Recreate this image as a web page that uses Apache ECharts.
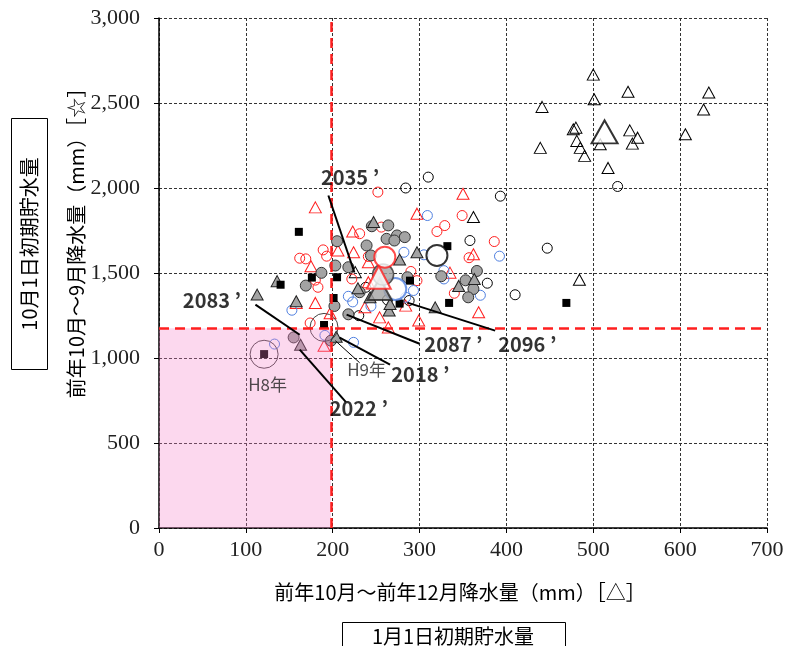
<!DOCTYPE html>
<html>
<head>
<meta charset="utf-8">
<script src="https://cdn.jsdelivr.net/npm/echarts@6/dist/echarts.min.js"></script>
<style>
html, body { margin: 0; padding: 0; background: #fff; }
#chart { width: 787px; height: 646px; }
</style>
</head>
<body>
<div id="chart"></div>
<script>
// x: 前年10月～前年12月降水量 (mm), y: 前年10月～9月降水量 (mm)
const xTickInterval = 100;
const yTickInterval = 500;

// Open black triangles
const blackTriangles = [
  [500, 2667], [540, 2566], [633, 2562], [501, 2522], [441, 2477], [627, 2462],
  [477, 2345], [480, 2355], [542, 2339], [551, 2296], [606, 2316], [481, 2277],
  [545, 2261], [508, 2257], [439, 2236], [485, 2236], [490, 2189], [517, 2118],
  [362, 1829], [484, 1460], [226, 1505]
];
// Open black circles
const blackCircles = [
  [310, 2064], [284, 2000], [393, 1952], [528, 2009], [358, 1691], [447, 1646],
  [378, 1440], [410, 1372], [238, 1416], [230, 1249], [288, 1338], [263, 1342]
];
// Open red circles
const redCircles = [
  [252, 1976], [349, 1838], [231, 1731], [329, 1779], [320, 1744], [256, 1770],
  [386, 1685], [357, 1590], [189, 1636], [162, 1587], [169, 1583], [193, 1599],
  [180, 1458], [183, 1416], [222, 1465], [174, 1206], [340, 1381], [290, 1509],
  [297, 1455], [241, 1597]
];
// Open red triangles
const redTriangles = [
  [180, 1886], [223, 1744], [206, 1632], [224, 1622], [175, 1540], [158, 1324],
  [180, 1324], [197, 1263], [190, 1072], [350, 1966], [297, 1849], [241, 1563],
  [335, 1502], [368, 1269], [299, 1220], [264, 1180], [254, 1239], [284, 1308],
  [237, 1298], [241, 1446], [362, 1610]
];
// Open blue circles
const blueCircles = [
  [309, 1838], [305, 1607], [392, 1599], [282, 1622], [328, 1514], [328, 1465],
  [370, 1369], [293, 1397], [284, 1357], [218, 1363], [223, 1330], [153, 1281],
  [191, 1133], [224, 1092], [133, 1082], [244, 1305]
];
// Filled gray circles
const grayCircles = [
  [205, 1687], [203, 1544], [218, 1534], [187, 1501], [169, 1426], [202, 1306],
  [218, 1257], [155, 1121], [198, 1102], [245, 1775], [264, 1780], [274, 1721],
  [283, 1711], [262, 1701], [271, 1691], [239, 1662], [244, 1603], [231, 1387],
  [325, 1481], [366, 1512], [353, 1457], [362, 1406], [356, 1357], [286, 1475]
];
// Filled gray triangles
const grayTriangles = [
  [247, 1800], [297, 1622], [277, 1579], [136, 1452], [113, 1373], [158, 1334],
  [163, 1078], [204, 1125], [345, 1424], [363, 1465], [318, 1298], [265, 1279],
  [229, 1410], [243, 1357], [266, 1318]
];
// Filled black squares
const blackSquares = [
  [161, 1742], [176, 1473], [205, 1475], [140, 1431], [201, 1353], [190, 1194],
  [121, 1023], [332, 1658], [289, 1455], [334, 1324], [277, 1320], [469, 1324]
];

// Group means (large markers)
const meanBlackTriangle = [[513, 2330]];
const meanBlackCircle = [[320, 1603]];
const meanRedCircle = [[260, 1593]];
const meanGrayCircle = [[258, 1491]];
const meanRedTriangle = [[253, 1475]];
const meanBlueCircle = [[272, 1406]];
const meanGrayTriangle = [[254, 1406]];

// Highlighted years H8 / H9 (rings)
const ringPoints = [[121, 1022], [190, 1180]];

// Threshold lines
const thresholdX = 198;
const thresholdY = 1175;

// Callouts: label text, label anchor, leader line start (label side) and end (point side)
const calloutNames = ['2035 ’', '2083 ’', '2022 ’', '2018 ’', '2087 ’', '2096 ’'];
const calloutLabelAt = [[220, 2062], [61, 1338], [230, 701], [301, 902], [339, 1078], [424, 1078]];
const calloutLineFrom = [[195, 1956], [111, 1314], [215, 742], [266, 961], [300, 1084], [387, 1161]];
const calloutLineTo = [[225, 1503], [162, 1137], [162, 1049], [208, 1120], [216, 1255], [286, 1326]];

const yearNames = ['H8年', 'H9年'];
const yearLabelAt = [[125, 843], [239, 931]];
const yearLineFrom = [[231, 972]];
const yearLineTo = [[203, 1102]];

const RED = '#ff1f1f';
const BLUE = '#4f7fe0';
const GRAY = '#a3a3a3';

function openSeries(data, symbol, size, color, extra) {
  return Object.assign({
    type: 'scatter', data, symbol, symbolSize: size, z: 2,
    itemStyle: { color: 'rgba(255,255,255,0)', borderColor: color, borderWidth: 1, opacity: 1 },
    emphasis: { disabled: true }
  }, extra || {});
}
function filledSeries(data, symbol, size, fill, border, extra) {
  return Object.assign({
    type: 'scatter', data, symbol, symbolSize: size, z: 2,
    itemStyle: { color: fill, borderColor: border, borderWidth: border ? 1 : 0, opacity: 1 },
    emphasis: { disabled: true }
  }, extra || {});
}

const chart = echarts.init(document.getElementById('chart'), null, { renderer: 'canvas' });

const series = [
  openSeries(blackTriangles, 'triangle', [12, 11], '#000'),
  openSeries(blackCircles, 'circle', 10, '#000'),
  openSeries(redCircles, 'circle', 10, RED),
  openSeries(redTriangles, 'triangle', [12, 11], RED),
  openSeries(blueCircles, 'circle', 10, BLUE),
  filledSeries(grayCircles, 'circle', 11, GRAY, '#333'),
  filledSeries(grayTriangles, 'triangle', [12, 11], GRAY, '#222'),
  filledSeries(blackSquares, 'rect', 8, '#000', null),
  // group means
  openSeries(meanBlueCircle, 'circle', 22, BLUE, { itemStyle: { color: '#fff', borderColor: BLUE, borderWidth: 2 } }),
  filledSeries(meanGrayTriangle, 'triangle', [24, 22], GRAY, '#222', { itemStyle: { color: GRAY, borderColor: '#222', borderWidth: 2 } }),
  filledSeries(meanGrayCircle, 'circle', 21, GRAY, '#333', { itemStyle: { color: GRAY, borderColor: '#333', borderWidth: 1.5 } }),
  openSeries(meanRedTriangle, 'triangle', [24, 23], RED, { itemStyle: { color: '#fff', borderColor: RED, borderWidth: 2 } }),
  openSeries(meanRedCircle, 'circle', 21, RED, { itemStyle: { color: '#fff', borderColor: RED, borderWidth: 2 } }),
  openSeries(meanBlackCircle, 'circle', 21, '#000', { itemStyle: { color: '#fff', borderColor: '#000', borderWidth: 2 } }),
  openSeries(meanBlackTriangle, 'triangle', [26, 23], '#000', { itemStyle: { color: '#fff', borderColor: '#000', borderWidth: 2 } }),
  // H8 / H9 rings
  openSeries(ringPoints, 'circle', 28, '#444'),
  // translucent pink zone laid over the markers (x < thresholdX, y < thresholdY)
  {
    type: 'custom', z: 3, silent: true,
    data: [[thresholdX, thresholdY]],
    renderItem: (params, api) => {
      const topLeft = api.coord([0, api.value(1)]);
      const bottomRight = api.coord([api.value(0), 0]);
      return {
        type: 'rect',
        shape: {
          x: topLeft[0], y: topLeft[1],
          width: bottomRight[0] - topLeft[0], height: bottomRight[1] - topLeft[1]
        },
        style: { fill: 'rgba(245,125,198,0.3)' }
      };
    }
  },
  // red threshold lines
  {
    type: 'scatter', data: [], z: 4, silent: true,
    markLine: {
      silent: true, symbol: 'none', label: { show: false },
      lineStyle: { color: RED, width: 2.5, type: [10, 6] },
      data: [{ xAxis: thresholdX }, { yAxis: thresholdY }]
    }
  },
  // leader lines
  {
    type: 'lines', coordinateSystem: 'cartesian2d', z: 5, silent: true,
    lineStyle: { color: '#000', width: 2, opacity: 1, curveness: 0 },
    data: calloutLineFrom.map((p, i) => ({ coords: [p, calloutLineTo[i]] }))
  },
  {
    type: 'lines', coordinateSystem: 'cartesian2d', z: 5, silent: true,
    lineStyle: { color: '#000', width: 1, opacity: 1, curveness: 0 },
    data: yearLineFrom.map((p, i) => ({ coords: [p, yearLineTo[i]] }))
  },
  // callout texts
  {
    type: 'scatter', z: 6, symbolSize: 1, silent: true,
    itemStyle: { color: 'rgba(0,0,0,0)' },
    data: calloutNames.map((n, i) => ({ name: n, value: calloutLabelAt[i] })),
    label: {
      show: true, position: 'inside', formatter: '{b}', color: '#000',
      fontFamily: 'Noto Sans CJK JP', fontWeight: 'bold', fontSize: 20
    }
  },
  {
    type: 'scatter', z: 6, symbolSize: 1, silent: true,
    itemStyle: { color: 'rgba(0,0,0,0)' },
    data: yearNames.map((n, i) => ({ name: n, value: yearLabelAt[i] })),
    label: {
      show: true, position: 'inside', formatter: '{b}', color: '#222',
      fontFamily: 'Noto Sans CJK JP', fontSize: 17
    }
  }
];

const axisFont = { fontFamily: 'Liberation Serif', fontSize: 22, color: '#222' };
const gridLine = { show: true, lineStyle: { color: '#333', width: 1, type: [3, 2] } };
const titleFont = '20px "Noto Sans CJK JP"';

chart.setOption({
  animation: false,
  backgroundColor: '#fff',
  grid: { left: 159, right: 20, top: 18, bottom: 118 },
  xAxis: {
    type: 'value', min: 0, max: 700, interval: xTickInterval,
    axisLine: { show: true, onZero: false, lineStyle: { color: '#000', width: 1.5 } },
    axisTick: { show: true, length: 5, lineStyle: { color: '#000' } },
    axisLabel: Object.assign({ margin: 11 }, axisFont),
    splitLine: gridLine
  },
  yAxis: {
    type: 'value', min: 0, max: 3000, interval: yTickInterval,
    axisLine: { show: true, onZero: false, lineStyle: { color: '#000', width: 1.5 } },
    axisTick: { show: true, length: 5, lineStyle: { color: '#000' } },
    axisLabel: Object.assign({ margin: 19, formatter: v => v.toLocaleString('en-US') }, axisFont),
    splitLine: gridLine
  },
  series,
  graphic: [
    {
      type: 'rect', left: 11, top: 118, z: 10,
      shape: { width: 36, height: 251 },
      style: { fill: '#fff', stroke: '#000', lineWidth: 1 }
    },
    {
      type: 'text', x: 29, y: 244, rotation: Math.PI / 2, z: 11,
      style: {
        text: '10月1日初期貯水量', font: titleFont, fill: '#000',
        align: 'center', verticalAlign: 'middle', textAlign: 'center', textVerticalAlign: 'middle'
      }
    },
    {
      type: 'text', x: 76, y: 238, rotation: Math.PI / 2, z: 11,
      style: {
        text: '前年10月～9月降水量（mm）［☆］', font: titleFont, fill: '#000',
        align: 'center', verticalAlign: 'middle', textAlign: 'center', textVerticalAlign: 'middle'
      }
    },
    {
      type: 'text', x: 460, y: 592, z: 11,
      style: {
        text: '前年10月～前年12月降水量（mm）［△］', font: titleFont, fill: '#000',
        align: 'center', verticalAlign: 'middle', textAlign: 'center', textVerticalAlign: 'middle'
      }
    },
    {
      type: 'rect', left: 342, top: 622, z: 10,
      shape: { width: 223, height: 40 },
      style: { fill: '#fff', stroke: '#000', lineWidth: 1 }
    },
    {
      type: 'text', x: 453, y: 636, z: 11,
      style: {
        text: '1月1日初期貯水量', font: titleFont, fill: '#000',
        align: 'center', verticalAlign: 'middle', textAlign: 'center', textVerticalAlign: 'middle'
      }
    }
  ]
});
</script>
</body>
</html>
